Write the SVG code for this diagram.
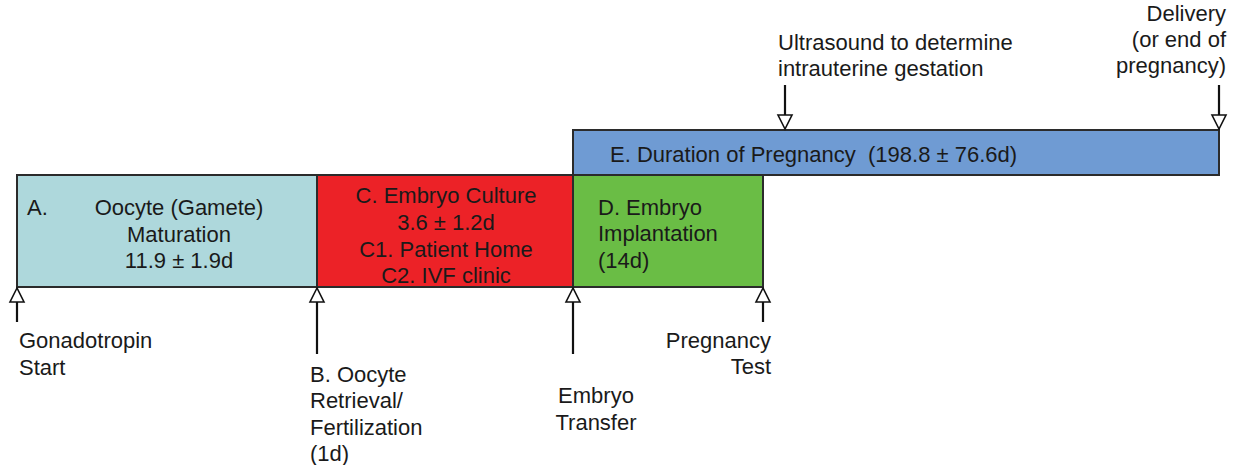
<svg xmlns="http://www.w3.org/2000/svg" width="1236" height="465" viewBox="0 0 1236 465">
<style>
.t{font-family:"Liberation Sans",Arial,sans-serif;font-size:22px;fill:#1a1a1a}
.m{text-anchor:middle}
.e{text-anchor:end}
.box{stroke:#2b2b2b;stroke-width:2}
.stem{stroke:#111;stroke-width:2.2;fill:none}
.head{fill:#fff;stroke:#111;stroke-width:1.6;stroke-linejoin:miter}
</style>
<rect width="1236" height="465" fill="#fff"/>
<g id="nodeE">
<rect class="box" x="573" y="130" width="646" height="45" fill="#6f9bd3"/>
<text class="t" x="610" y="162" xml:space="preserve">E. Duration of Pregnancy  (198.8 ± 76.6d)</text>
</g>
<g id="nodeA">
<rect class="box" x="17" y="175" width="300" height="112" fill="#aed8dc"/>
<text class="t" x="27" y="215">A.</text>
<text class="t m" x="179" y="215">Oocyte (Gamete)</text>
<text class="t m" x="179" y="242">Maturation</text>
<text class="t m" x="179" y="268">11.9 ± 1.9d</text>
</g>
<g id="nodeC">
<rect class="box" x="317" y="175" width="256" height="112" fill="#ec2227"/>
<text class="t m" x="446" y="203">C. Embryo Culture</text>
<text class="t m" x="446" y="230">3.6 ± 1.2d</text>
<text class="t m" x="446" y="257">C1. Patient Home</text>
<text class="t m" x="446" y="283">C2. IVF clinic</text>
</g>
<g id="nodeD">
<rect class="box" x="573" y="175" width="190" height="112" fill="#6abd45"/>
<text class="t" x="598" y="215">D. Embryo</text>
<text class="t" x="598" y="241">Implantation</text>
<text class="t" x="598" y="268">(14d)</text>
</g>
<g id="connectors">
<line class="stem" x1="17" y1="300" x2="17" y2="322"/>
<polygon class="head" points="17,288 10,302 24,302"/>
<line class="stem" x1="317" y1="300" x2="317" y2="354"/>
<polygon class="head" points="317,288 310,302 324,302"/>
<line class="stem" x1="573" y1="300" x2="573" y2="354"/>
<polygon class="head" points="573,288 566,302 580,302"/>
<line class="stem" x1="763" y1="300" x2="763" y2="322"/>
<polygon class="head" points="763,288 756,302 770,302"/>
<line class="stem" x1="785" y1="85" x2="785" y2="117"/>
<polygon class="head" points="785,129 778,115 792,115"/>
<line class="stem" x1="1219" y1="85" x2="1219" y2="117"/>
<polygon class="head" points="1219,129 1212,115 1226,115"/>
</g>
<g id="labels">
<text class="t" x="19" y="348">Gonadotropin</text>
<text class="t" x="19" y="375">Start</text>
<text class="t" x="310" y="382">B. Oocyte</text>
<text class="t" x="310" y="408">Retrieval/</text>
<text class="t" x="310" y="435">Fertilization</text>
<text class="t" x="310" y="461">(1d)</text>
<text class="t m" x="596" y="403">Embryo</text>
<text class="t m" x="596" y="430">Transfer</text>
<text class="t e" x="771" y="348">Pregnancy</text>
<text class="t e" x="771" y="374">Test</text>
<text class="t" x="778" y="50">Ultrasound to determine</text>
<text class="t" x="778" y="76">intrauterine gestation</text>
<text class="t e" x="1226" y="21">Delivery</text>
<text class="t e" x="1226" y="47">(or end of</text>
<text class="t e" x="1226" y="73">pregnancy)</text>
</g>
</svg>
